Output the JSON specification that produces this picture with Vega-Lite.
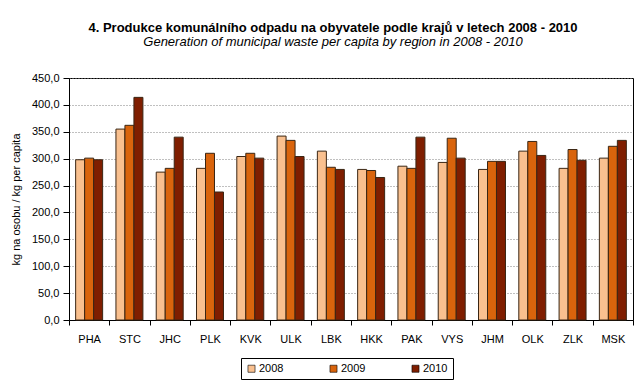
{
  "$schema": "https://vega.github.io/schema/vega-lite/v6.json",
  "width": 564,
  "height": 242,
  "autosize": {"type": "none"},
  "padding": {"left": 69, "top": 78, "right": 10, "bottom": 68},
  "background": "white",
  "title": {
    "text": "4. Produkce komunálního odpadu na obyvatele podle krajů v letech 2008 - 2010",
    "subtitle": "Generation of municipal waste per capita by region in 2008 - 2010",
    "font": "Liberation Sans",
    "fontSize": 13,
    "fontWeight": "bold",
    "color": "#000000",
    "subtitleFont": "Liberation Sans",
    "subtitleFontSize": 13,
    "subtitleFontStyle": "italic",
    "subtitleColor": "#000000",
    "subtitlePadding": 1,
    "anchor": "middle",
    "frame": "group",
    "dx": -18,
    "offset": 23
  },
  "config": {
    "locale": {
      "number": {"decimal": ",", "thousands": " ", "grouping": [3], "currency": ["", " Kč"]}
    },
    "font": "Liberation Sans",
    "view": {"stroke": "#000000", "strokeWidth": 1}
  },
  "data": {
    "values": [
      {"region": "PHA", "year": "2008", "value": 298},
      {"region": "PHA", "year": "2009", "value": 301},
      {"region": "PHA", "year": "2010", "value": 298},
      {"region": "STC", "year": "2008", "value": 355},
      {"region": "STC", "year": "2009", "value": 362},
      {"region": "STC", "year": "2010", "value": 414},
      {"region": "JHC", "year": "2008", "value": 275},
      {"region": "JHC", "year": "2009", "value": 282},
      {"region": "JHC", "year": "2010", "value": 340},
      {"region": "PLK", "year": "2008", "value": 282},
      {"region": "PLK", "year": "2009", "value": 310},
      {"region": "PLK", "year": "2010", "value": 238},
      {"region": "KVK", "year": "2008", "value": 304},
      {"region": "KVK", "year": "2009", "value": 310},
      {"region": "KVK", "year": "2010", "value": 301},
      {"region": "ULK", "year": "2008", "value": 342},
      {"region": "ULK", "year": "2009", "value": 334},
      {"region": "ULK", "year": "2010", "value": 304},
      {"region": "LBK", "year": "2008", "value": 314},
      {"region": "LBK", "year": "2009", "value": 284},
      {"region": "LBK", "year": "2010", "value": 280},
      {"region": "HKK", "year": "2008", "value": 280},
      {"region": "HKK", "year": "2009", "value": 278},
      {"region": "HKK", "year": "2010", "value": 265},
      {"region": "PAK", "year": "2008", "value": 286},
      {"region": "PAK", "year": "2009", "value": 282},
      {"region": "PAK", "year": "2010", "value": 340},
      {"region": "VYS", "year": "2008", "value": 293},
      {"region": "VYS", "year": "2009", "value": 338},
      {"region": "VYS", "year": "2010", "value": 301},
      {"region": "JHM", "year": "2008", "value": 280},
      {"region": "JHM", "year": "2009", "value": 295},
      {"region": "JHM", "year": "2010", "value": 295},
      {"region": "OLK", "year": "2008", "value": 314},
      {"region": "OLK", "year": "2009", "value": 332},
      {"region": "OLK", "year": "2010", "value": 306},
      {"region": "ZLK", "year": "2008", "value": 282},
      {"region": "ZLK", "year": "2009", "value": 317},
      {"region": "ZLK", "year": "2010", "value": 297},
      {"region": "MSK", "year": "2008", "value": 301},
      {"region": "MSK", "year": "2009", "value": 323},
      {"region": "MSK", "year": "2010", "value": 334}
    ]
  },
  "mark": {"type": "bar", "stroke": "#3a2614", "strokeWidth": 1},
  "encoding": {
    "x": {
      "field": "region",
      "type": "nominal",
      "sort": null,
      "scale": {"paddingInner": 0, "paddingOuter": 0},
      "axis": {
        "title": null,
        "labelAngle": 0,
        "labelFont": "Liberation Sans",
        "labelFontSize": 11,
        "labelColor": "#000000",
        "labelPadding": 8,
        "ticks": true,
        "tickBand": "extent",
        "tickSize": 5,
        "tickColor": "#000000",
        "domainColor": "#000000",
        "domainWidth": 1
      }
    },
    "xOffset": {
      "field": "year",
      "type": "nominal",
      "scale": {"paddingInner": 0, "paddingOuter": 0.74}
    },
    "y": {
      "field": "value",
      "type": "quantitative",
      "scale": {"domain": [0, 450], "nice": false, "zero": true},
      "axis": {
        "title": "kg na osobu / kg per capita",
        "titleFont": "Liberation Sans",
        "titleFontSize": 11,
        "titleFontWeight": "normal",
        "titleColor": "#000000",
        "titlePadding": 10,
        "values": [0, 50, 100, 150, 200, 250, 300, 350, 400, 450],
        "labelOverlap": false,
        "format": ".1f",
        "labelFont": "Liberation Sans",
        "labelFontSize": 11,
        "labelColor": "#000000",
        "labelPadding": 4,
        "tickSize": 6,
        "tickColor": "#000000",
        "domainColor": "#000000",
        "grid": true,
        "gridColor": "#808080",
        "gridDash": [1, 2],
        "gridWidth": 1
      }
    },
    "fill": {
      "field": "year",
      "type": "nominal",
      "scale": {"domain": ["2008", "2009", "2010"], "range": ["#F9C08F", "#D9640C", "#7F1E00"]},
      "legend": {
        "title": null,
        "orient": "none",
        "direction": "horizontal",
        "legendX": 172,
        "legendY": 280,
        "padding": 5,
        "columnPadding": 44,
        "strokeColor": "#000000",
        "fillColor": "#ffffff",
        "symbolType": "square",
        "symbolSize": 50,
        "symbolStrokeColor": "#000000",
        "symbolStrokeWidth": 0.6,
        "labelFont": "Liberation Sans",
        "labelFontSize": 11,
        "labelColor": "#000000",
        "labelOffset": 2
      }
    }
  }
}
